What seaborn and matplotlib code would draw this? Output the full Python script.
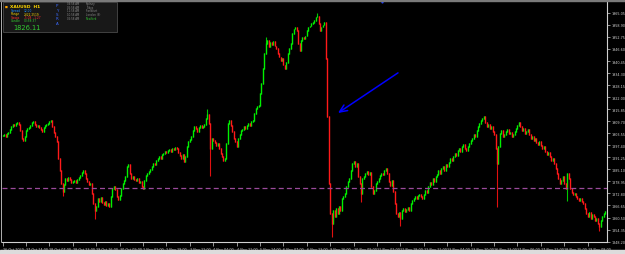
import numpy as np
import pandas as pd
import matplotlib
matplotlib.use("Agg")
import matplotlib.pyplot as plt
import seaborn as sns

# ---------------- data (XAUUSD H1 closes) ----------------
week1_close = [
    1902.2, 1902.7, 1901.7, 1903.3, 1903.8, 1905.3, 1906.8, 1907.8, 1907.3, 1908.4,
    1908.9, 1907.8, 1904.8, 1900.7, 1899.7, 1901.7, 1904.8, 1905.8, 1906.3, 1907.3,
    1908.9, 1909.4, 1907.8, 1906.8, 1907.3, 1906.3, 1905.3, 1904.3, 1906.3, 1907.3,
    1907.8, 1908.4, 1909.4, 1909.9, 1906.8, 1903.8, 1901.7, 1899.2, 1890.5, 1884.4,
    1877.8, 1873.7, 1877.2, 1880.3, 1879.3, 1880.8, 1879.8, 1878.3, 1878.8, 1879.3,
    1878.3, 1879.8, 1880.8, 1881.8, 1883.4, 1884.4, 1882.9, 1880.3, 1878.8, 1877.2,
    1877.8, 1872.7, 1867.6, 1864.0, 1866.0, 1870.1, 1868.6, 1870.6, 1868.1, 1867.0,
    1868.6, 1866.5, 1867.6, 1866.0, 1871.1, 1875.2, 1876.2, 1874.7, 1871.1, 1869.6,
    1871.6, 1875.2, 1877.8, 1879.3, 1881.3, 1886.4, 1887.4, 1882.9, 1880.3, 1881.3,
    1879.8, 1879.3, 1880.3, 1878.3, 1878.8,
]
week2_close = [
    1876.2, 1875.2, 1879.3, 1881.8, 1882.9, 1883.9, 1884.9, 1886.4, 1888.0, 1887.4,
    1889.5, 1890.5, 1891.5, 1890.5, 1892.5, 1893.1, 1894.1, 1893.6, 1894.6, 1895.1,
    1894.1, 1895.6, 1895.1, 1896.1, 1895.6, 1893.6, 1892.0, 1890.5, 1892.5, 1889.0,
    1891.5, 1896.6, 1899.2, 1900.2, 1901.7, 1904.8, 1906.8, 1905.8, 1904.3, 1906.3,
    1907.3, 1906.3, 1906.8, 1907.8, 1910.9, 1912.9, 1908.4, 1895.6, 1900.7, 1899.7,
    1898.7, 1897.1, 1898.2, 1895.6, 1893.1, 1891.5, 1889.5, 1890.5, 1898.2, 1908.4,
    1909.9, 1907.3, 1904.3, 1900.7, 1899.2, 1896.6, 1900.7, 1902.7, 1904.8, 1905.3,
    1906.8, 1905.8, 1907.3, 1908.4, 1907.3, 1909.4, 1909.9, 1913.5, 1916.0, 1917.0,
    1917.5, 1923.7, 1928.8, 1936.4, 1944.1, 1949.2, 1950.7, 1947.6, 1949.7, 1948.6,
    1950.2, 1948.1, 1946.6, 1944.1, 1942.5, 1940.5, 1941.5, 1938.4, 1936.4, 1939.5,
    1944.1, 1946.6, 1949.2, 1954.3, 1956.8, 1957.8, 1955.8, 1949.2, 1945.6, 1950.7,
    1952.7, 1951.7, 1953.2, 1955.8,
]
week3_close = [
    1957.8, 1958.3, 1959.4, 1959.9, 1960.9, 1962.9, 1963.4, 1959.4, 1955.8, 1957.8,
    1958.8, 1959.9, 1941.5, 1911.9, 1877.8, 1862.5, 1857.4, 1864.0, 1860.9, 1865.0,
    1862.5, 1866.0, 1864.0, 1870.1, 1871.1, 1872.7, 1876.2, 1878.8, 1880.3, 1884.4,
    1888.0, 1889.0, 1886.4, 1888.0, 1881.3, 1877.8, 1872.7, 1880.3, 1881.3, 1882.9,
    1883.9, 1882.3, 1883.4, 1876.2, 1872.7, 1874.2, 1877.8, 1878.8, 1880.3, 1881.8,
    1882.9, 1882.3, 1884.4, 1885.4, 1882.9, 1878.8, 1876.7, 1879.3, 1873.7, 1867.6,
    1862.5, 1860.9, 1863.0, 1859.9, 1864.0, 1865.0, 1863.5, 1864.5, 1865.5, 1864.0,
    1867.6, 1869.1, 1870.1, 1871.1, 1870.1, 1871.6, 1872.1, 1871.1, 1870.1, 1872.1,
    1874.2, 1873.2, 1876.2, 1878.3, 1877.2, 1880.3, 1878.8, 1881.3, 1882.3, 1884.4,
    1882.9, 1885.4, 1886.4, 1884.4, 1887.4, 1886.4, 1888.5, 1890.5, 1889.5, 1891.5,
    1893.1, 1892.0, 1894.6, 1895.6, 1894.1, 1896.6, 1897.6, 1895.6, 1894.6, 1896.6,
    1898.2, 1899.7, 1900.7, 1902.7, 1901.7,
]
week4_close = [
    1904.8, 1906.8, 1908.4, 1909.9, 1910.9, 1911.9, 1908.9, 1906.8, 1907.8, 1905.8,
    1906.8, 1904.3, 1902.7, 1895.6, 1888.0, 1896.6, 1903.3, 1904.8, 1901.7, 1902.7,
    1904.3, 1905.3, 1903.3, 1903.8, 1901.7, 1902.7, 1904.3, 1905.8, 1907.3, 1908.9,
    1906.8, 1904.8, 1905.8, 1903.3, 1904.3, 1905.3, 1902.7, 1900.7, 1901.7, 1899.7,
    1900.7, 1898.7, 1897.6, 1899.2, 1897.1, 1895.6, 1896.6, 1894.1, 1892.5, 1893.6,
    1891.5, 1889.5, 1890.5, 1888.0, 1885.4, 1882.9, 1880.3, 1877.8, 1879.3, 1881.3,
    1877.8, 1875.2, 1882.9, 1880.3, 1875.2, 1873.2, 1872.1, 1872.7, 1871.1, 1870.1,
    1869.1, 1870.1, 1868.6, 1867.6, 1865.0, 1862.5, 1860.9, 1863.0, 1859.9, 1861.9,
    1860.9, 1858.9, 1859.9, 1857.4, 1855.8, 1858.9, 1860.9, 1862.5, 1863.5,
]
first_open = 1902.0

# notable shadows (bar number, price)
low_wick_bars = [41, 63, 142, 225, 245, 272, 338, 386, 408]
low_wick_prices = [1871.6, 1859.9, 1881.8, 1850.7, 1868.6, 1856.3, 1866.0, 1869.1, 1853.8]
high_wick_bars = [140, 180, 215]
high_wick_prices = [1916.0, 1952.7, 1965.0]

time_labels = [
    "26 Oct 2020", "27 Oct 14:00", "28 Oct 07:00", "28 Oct 23:00", "29 Oct 16:00",
    "30 Oct 09:00", "2 Nov 02:00", "2 Nov 19:00", "3 Nov 12:00", "4 Nov 04:00",
    "4 Nov 21:00", "5 Nov 14:00", "6 Nov 07:00", "6 Nov 23:00", "9 Nov 16:00",
    "10 Nov 09:00", "11 Nov 02:00", "11 Nov 18:00", "12 Nov 11:00", "13 Nov 04:00",
    "13 Nov 20:00", "16 Nov 13:00", "17 Nov 06:00", "17 Nov 22:00", "18 Nov 15:00",
    "19 Nov 08:00",
]
price_ticks = [
    1848.20, 1854.35, 1860.50, 1866.65, 1872.80, 1878.95, 1885.10, 1891.25, 1897.40,
    1903.55, 1909.70, 1915.85, 1922.00, 1928.15, 1934.30, 1940.45, 1946.60, 1952.75,
    1958.90, 1965.05,
]
level_price = 1875.7
arrow_tail = (270.3, 1934.4)   # (bar, price)
arrow_head = (229.3, 1913.9)

# ---------------- build OHLC ----------------
closes = week1_close + week2_close + week3_close + week4_close
df = pd.DataFrame({"close": closes})
df["bar"] = np.arange(len(df))
df["open"] = df["close"].shift(1).fillna(first_open)
df["up"] = df["close"] >= df["open"]
df["lo"] = df[["open", "close"]].min(axis=1)
df["hi"] = df[["open", "close"]].max(axis=1) + 0.25
df["wlo"] = df["lo"]
df["whi"] = df["hi"]
df.loc[low_wick_bars, "wlo"] = low_wick_prices
df.loc[high_wick_bars, "whi"] = high_wick_prices

# ---------------- figure ----------------
sns.set_theme(style="dark")
plt.rcParams["font.family"] = ["DejaVu Sans"]
W, H = 625, 255
fig = plt.figure(figsize=(W / 100, H / 100), dpi=100, facecolor="black")

def fx(px):
    return px / W

def fy(py):
    return 1 - py / H

ax_left, ax_right, ax_top, ax_bot = 2, 607, 3, 243
ax = fig.add_axes([fx(ax_left), fy(ax_bot), fx(ax_right - ax_left), (ax_bot - ax_top) / H])
ax.set_facecolor("black")
ax.grid(False)

bull = df[df["up"]]
bear = df[~df["up"]]
# shadows
ax.vlines(bull["bar"], bull["wlo"], bull["whi"], color="#00c800", lw=0.8)
ax.vlines(bear["bar"], bear["wlo"], bear["whi"], color="#e01010", lw=0.8)
# bodies
ax.vlines(bull["bar"], bull["lo"], bull["hi"], color="#00f000", lw=0.95)
ax.vlines(bear["bar"], bear["lo"], bear["hi"], color="#ff1a1a", lw=0.95)

ax.axhline(level_price, color="#9a4a9a", lw=0.9, dashes=(4, 2.5))

ax.annotate("", xy=arrow_head, xytext=arrow_tail,
            arrowprops=dict(arrowstyle="->,head_length=0.45,head_width=0.2",
                            color="#0000ff", lw=1.1, shrinkA=0, shrinkB=0))

ax.set_xlim(-0.4, 413.2)
ax.set_ylim(1848.0, 1970.6)

# spines
for s in ["top", "left"]:
    ax.spines[s].set_visible(False)
for s in ["right", "bottom"]:
    ax.spines[s].set_visible(True)
    ax.spines[s].set_color("#d0d0d0")
    ax.spines[s].set_linewidth(0.8)

# y axis on the right
ax.yaxis.tick_right()
ax.set_yticks(price_ticks)
ax.set_yticklabels([f"{v:.2f}" for v in price_ticks])
ax.tick_params(axis="y", direction="out", length=2, width=0.5, colors="#d0d0d0",
               labelsize=2.4, pad=1.2, right=True, left=False)

# x axis
ax.set_xticks(np.arange(len(time_labels)) * 16)
ax.set_xticklabels(time_labels)
for t in ax.get_xticklabels():
    t.set_ha("left")
ax.tick_params(axis="x", direction="out", length=3, width=0.5, colors="#d0d0d0",
               labelsize=2.4, pad=0.6, bottom=True)
ax.set_xlabel("")
ax.set_ylabel("")

# window chrome
fig.patches.append(plt.Rectangle((0, fy(2.2)), 1, 1 - fy(2.2), transform=fig.transFigure,
                                 color="#7a7a7a", zorder=5))
fig.patches.append(plt.Rectangle((0, 0), 1, fy(251), transform=fig.transFigure,
                                 color="#dcdcdc", zorder=5))
fig.add_artist(plt.Line2D([fx(1.3), fx(1.3)], [fy(243), fy(2)], transform=fig.transFigure,
                          color="#b0b0b0", lw=0.7))

# blue marker at the top
ax.plot([259.4], [1971.3], marker="v", ms=2.4, color="#2040ff", clip_on=False, zorder=6)

# ---------------- info panel ----------------
fig.patches.append(plt.Rectangle((fx(3), fy(33)), fx(114), (33 - 2.5) / H,
                                 transform=fig.transFigure, facecolor="#181818",
                                 edgecolor="#4a4a4a", lw=0.6, zorder=6))

def ptxt(x, y, s, color, size, weight="normal"):
    fig.text(fx(x), fy(y), s, color=color, fontsize=size, fontweight=weight,
             ha="left", va="center", zorder=7)

ptxt(5, 6.5, "■", "#ffa500", 2.2)
ptxt(10, 6.5, "XAUUSD  H1", "#ffd700", 3.2, "bold")
rows = [("Spread", "12.00", "#1e90ff"), ("Range", "2322.2519", "#ffd700"),
        ("Swaps", "-5.08  -1.27", "#ff3030"), ("Candle", "00:58:37", "#32cd32")]
for k, (lab, val, col) in enumerate(rows):
    ptxt(11, 11 + 3.5 * k, lab, col, 2.1)
    ptxt(24, 11 + 3.5 * k, val, col, 2.1)
ptxt(13, 27.5, "1826.11", "#32cd32", 4.8)
for k, ch in enumerate(["P", "Y", "S", "R", "A"]):
    ptxt(56, 6 + 4.5 * k, ch, "#3a6aff", 2.9)
sessions = [("04:58 AM", "Sydney", "#8a8a8a"), ("05:58 AM", "Tokyo", "#8a8a8a"),
            ("11:58 AM", "Frankfurt", "#8a8a8a"), ("10:58 AM", "London (S)", "#8a8a8a"),
            ("05:58 AM", "NewYork", "#32cd32")]
for k, (tm, nm, col) in enumerate(sessions):
    ptxt(67, 4.2 + 3.6 * k, tm, "#8a8a8a", 1.9)
    ptxt(86, 4.2 + 3.6 * k, nm, col, 1.9)

fig.savefig("out.png", dpi=100, facecolor="black")
